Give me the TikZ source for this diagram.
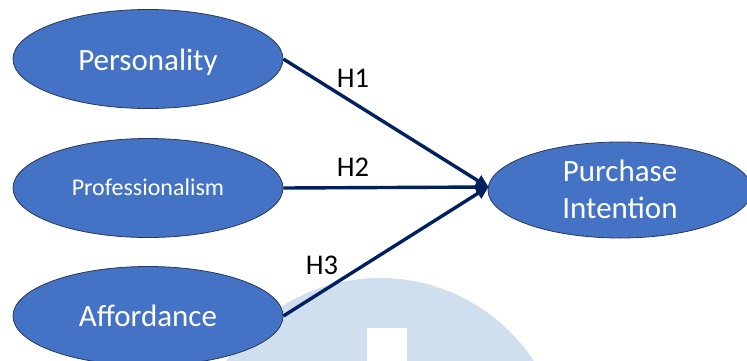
\documentclass[tikz,border=0pt]{standalone}
\usepackage{fontspec}
\setmainfont{Carlito}
\usetikzlibrary{shapes.geometric,arrows.meta}
\definecolor{fillblue}{RGB}{68,114,196}
\definecolor{edgeblue}{RGB}{40,56,90}
\definecolor{navy}{RGB}{0,32,96}
\definecolor{wmark}{RGB}{207,223,238}
\tikzset{
  construct/.style={ellipse, draw=edgeblue, line width=0.8pt, fill=fillblue, minimum width=270pt, minimum height=99pt, inner sep=0pt},
  bigtext/.style={text=white, font=\fontsize{31}{36}\selectfont, anchor=base, inner sep=0pt},
  smalltext/.style={text=white, font=\fontsize{24}{28}\selectfont, anchor=base, inner sep=0pt},
  hyp/.style={text=black, font=\fontsize{28.5}{32}\selectfont, inner sep=0pt},
  path/.style={draw=navy, line width=3.4pt, -{Triangle[length=13pt,width=12pt]}, shorten >=-1pt}
}
\begin{document}
\begin{tikzpicture}[x=1pt,y=-1pt]
\clip (0,0) rectangle (747,360);
\useasboundingbox (0,0) rectangle (747,360);
% watermark
\fill[wmark] (380,462) circle[radius=184];
\fill[white] (367,328) rectangle (407,361);
% constructs
\node[construct] (pers) at (148,59) {};
\node[construct] (prof) at (148,188) {};
\node[construct] (aff) at (148,316) {};
\node[construct, minimum width=264pt, minimum height=96pt] (pi) at (620,190) {};
\node[bigtext] (perst) at (148,70.5) {Personality};
\node[smalltext] (proft) at (148,195) {Professionalism};
\node[bigtext] (afft) at (148,326) {Affordance};
\node[bigtext] (pit1) at (620,181.5) {Purchase};
\node[bigtext] (pit2) at (620,218) {Intention};
% paths
\coordinate (tip) at (488,187);
\draw[path] (pers.east) -- (tip);
\draw[path] (prof.east) -- (tip);
\draw[path] (aff.east) -- (tip);
\node[hyp] (h1) at (353,78) {H1};
\node[hyp] (h2) at (353,167.5) {H2};
\node[hyp] (h3) at (322,265.5) {H3};
\end{tikzpicture}
\end{document}
